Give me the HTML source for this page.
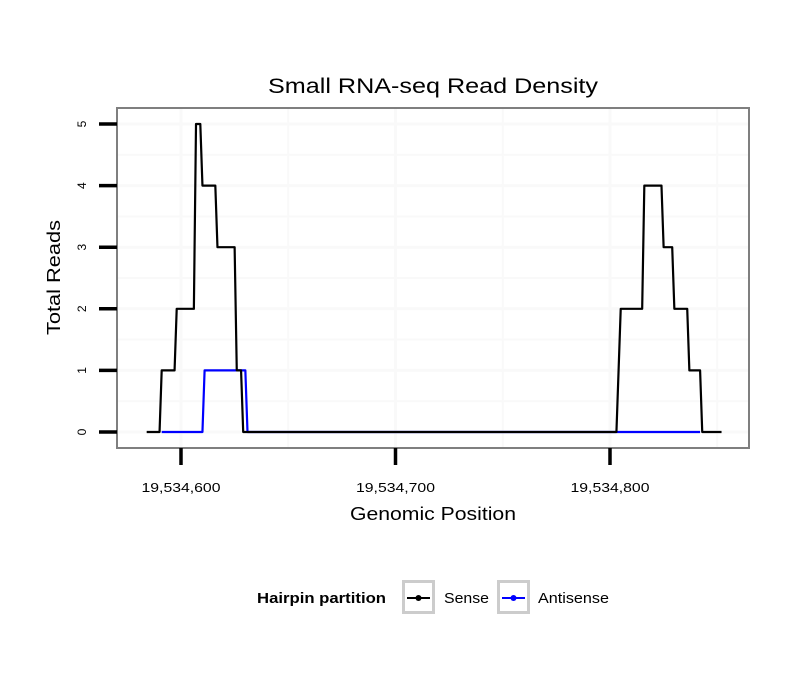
<!DOCTYPE html>
<html><head><meta charset="utf-8"><style>
body{margin:0;background:#fff}
svg{display:block;font-family:"Liberation Sans",sans-serif}
</style></head><body>
<svg id="chart" width="810" height="690">
<rect width="810" height="690" fill="#fff"/>
<text x="268" y="93" font-size="21" textLength="330" lengthAdjust="spacingAndGlyphs">Small RNA-seq Read Density</text>
<rect x="117" y="108" width="632" height="340" fill="#fff"/>
<g id="grid"></g>
<g id="series"></g>
<rect x="117" y="108" width="632" height="340" fill="none" stroke="#7f7f7f" stroke-width="2"/>
<g id="axes"></g>
<text x="350" y="520" font-size="18" textLength="166" lengthAdjust="spacingAndGlyphs">Genomic Position</text>
<text transform="translate(60,335) rotate(-90)" font-size="18" textLength="115" lengthAdjust="spacingAndGlyphs">Total Reads</text>
<g>
<text x="257" y="603" font-size="14.5" font-weight="bold" textLength="129" lengthAdjust="spacingAndGlyphs">Hairpin partition</text>
<g>
<rect x="403.5" y="581.5" width="30" height="31" fill="#fff" stroke="#cccccc" stroke-width="3"/>
<line x1="407" y1="598" x2="430" y2="598" stroke="#000" stroke-width="2"/>
<circle cx="418.5" cy="598" r="3" fill="#000"/>
<text x="444" y="603" font-size="14.5" textLength="45" lengthAdjust="spacingAndGlyphs">Sense</text>
</g>
<g>
<rect x="498.5" y="581.5" width="30" height="31" fill="#fff" stroke="#cccccc" stroke-width="3"/>
<line x1="502" y1="598" x2="525" y2="598" stroke="#0000ff" stroke-width="2"/>
<circle cx="513.5" cy="598" r="3" fill="#0000ff"/>
<text x="538" y="603" font-size="14.5" textLength="71" lengthAdjust="spacingAndGlyphs">Antisense</text>
</g>
</g>
</svg>
<script>
const senseX=[584,590,591,597,598,606,607,609,610,616,617,625,626,628,629,803,804,805,815,816,824,825,829,830,836,837,842,843,852];
const senseY=[0,0,1,1,2,2,5,5,4,4,3,3,1,1,0,0,1,2,2,4,4,3,3,2,2,1,1,0,0];
const antiX=[591,610,611,630,631,803,842];
const antiY=[0,0,1,1,0,0,0];
const xTicks=[600,700,800];
const xTickLabels=["19,534,600","19,534,700","19,534,800"];
const yTicks=[0,1,2,3,4,5];
const xs=v=>181+(v-600)*2.145;
const ys=v=>432-v*61.6;
const NS="http://www.w3.org/2000/svg";
function mk(tag,attrs,parent){const e=document.createElementNS(NS,tag);for(const k in attrs)e.setAttribute(k,attrs[k]);parent.appendChild(e);return e;}
const grid=document.getElementById('grid'),ser=document.getElementById('series'),ax=document.getElementById('axes');
for(let v=550;v<=850;v+=50){const x=xs(v);if(x<118||x>748)continue;
 const l=mk('line',{x1:x,x2:x,y1:109,y2:447,stroke:'#f9f9f9','stroke-width':v%100===0?3:2},grid);
 
 }
for(let v=0;v<=5.5;v+=0.5){const y=ys(v);if(y<109||y>447)continue;
 const l=mk('line',{x1:118,x2:748,y1:y,y2:y,stroke:'#f9f9f9','stroke-width':Number.isInteger(v)?3:2},grid);
 
 }
const ap=antiX.map((x,i)=>xs(x)+','+ys(antiY[i])).join(' ');
const pa=mk('polyline',{points:ap,fill:'none',stroke:'#0000ff','stroke-width':2.2,'stroke-linejoin':'round'},ser);


const sp=senseX.map((x,i)=>xs(x)+','+ys(senseY[i])).join(' ');
const ps=mk('polyline',{points:sp,fill:'none',stroke:'#000','stroke-width':2.2,'stroke-linejoin':'round'},ser);


yTicks.forEach(v=>{const y=ys(v);
 const t=mk('line',{x1:99,x2:117,y1:y,y2:y,stroke:'#000','stroke-width':3.5},ax);
 
 
 const tx=mk('text',{transform:`translate(86,${y}) rotate(-90)`,'font-size':12,'text-anchor':'middle'},ax);
 tx.textContent=v;
 
 });
xTicks.forEach((v,i)=>{const x=xs(v);
 const t=mk('line',{x1:x,x2:x,y1:448,y2:465,stroke:'#000','stroke-width':3.5},ax);
 
 
 const tx=mk('text',{x:x-39.5,y:492,'font-size':13,textLength:79,lengthAdjust:'spacingAndGlyphs'},ax);
 tx.textContent=xTickLabels[i];
 
 });
</script>
</body></html>
